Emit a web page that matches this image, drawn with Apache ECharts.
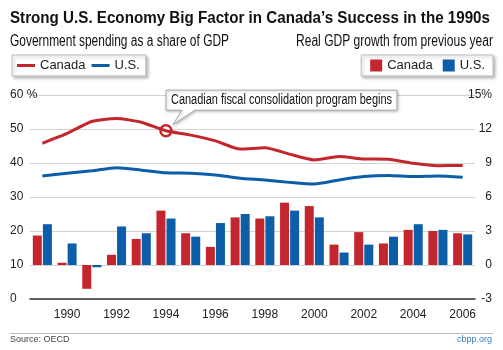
<!DOCTYPE html>
<html>
<head>
<meta charset="utf-8">
<script src="https://cdn.jsdelivr.net/npm/echarts@6/dist/echarts.min.js"></script>
<style>
body{margin:0;background:#fff}
#chart{width:503px;height:350px}
</style>
</head>
<body>
<div id="chart"></div>
<script>
var years = ['1989','1990','1991','1992','1993','1994','1995','1996','1997','1998','1999','2000','2001','2002','2003','2004','2005','2006'];
// government spending, % of GDP (left axis)
var spendCanada = [45.8,48.7,52.2,53.1,52.0,49.5,48.2,46.5,44.1,44.5,42.6,40.9,41.9,41.2,41.1,39.9,39.2,39.3];
var spendUS = [36.2,37.0,37.7,38.6,37.9,37.1,37.0,36.5,35.5,35.0,34.3,33.8,35.0,36.0,36.3,36.0,36.2,35.8];
// real GDP growth, % (right axis)
var growthCanada = [2.6,0.2,-2.1,0.9,2.3,4.8,2.8,1.6,4.2,4.1,5.5,5.2,1.8,2.9,1.9,3.1,3.0,2.8];
var growthUS = [3.6,1.9,-0.2,3.4,2.8,4.1,2.5,3.7,4.5,4.3,4.8,4.2,1.1,1.8,2.5,3.6,3.1,2.7];
var spendTicks = [0,10,20,30,40,50,60];
var growthTicks = [-3,0,3,6,9,12,15];
var noteText = 'Canadian fiscal consolidation program begins';

var FONT = "'Liberation Sans', Arial, sans-serif";
var RED = '#c4262e', BLUE = '#0d5ea8';
var names = {lineCA:'Canada', lineUS:'U.S.', barCA:'Canada', barUS:'U.S.'};

// squeeze text horizontally to imitate the condensed face of the original
var ctx = document.createElement('canvas').getContext('2d');
function squeeze(text, font, width) {
  ctx.font = font;
  return width / ctx.measureText(text).width;
}
function narrowText(text, font, x, y, width, align) {
  return {
    type: 'text', x: x, y: y, scaleX: squeeze(text, font, width),
    style: {text: text, font: font, fill: '#111', align: align || 'left', verticalAlign: 'middle'}
  };
}

var titleFont = 'bold 17px ' + FONT;
var subFont = '16px ' + FONT;
var noteFont = '14px ' + FONT;

var chart = echarts.init(document.getElementById('chart'));

chart.setOption({
  animation: false,
  textStyle: {fontFamily: FONT},
  grid: {left: 30, right: 28, top: 95, bottom: 51},
  legend: [{
    data: ['lineCA','lineUS'],
    left: 12, top: 55, padding: [4, 6, 4, 5],
    itemWidth: 18, itemHeight: 3, itemGap: 6, icon: 'rect',
    backgroundColor: '#fff', borderColor: '#bbb', borderWidth: 1,
    shadowBlur: 3, shadowOffsetX: 2, shadowOffsetY: 2, shadowColor: 'rgba(0,0,0,0.25)',
    formatter: function (n) { return names[n]; },
    textStyle: {fontFamily: FONT, fontSize: 13, color: '#222'},
    selectedMode: false
  }, {
    data: ['barCA','barUS'],
    right: 10, top: 55, padding: [4, 8, 4, 9],
    itemWidth: 12, itemHeight: 12, itemGap: 10, icon: 'rect',
    backgroundColor: '#fff', borderColor: '#bbb', borderWidth: 1,
    shadowBlur: 3, shadowOffsetX: 2, shadowOffsetY: 2, shadowColor: 'rgba(0,0,0,0.25)',
    formatter: function (n) { return names[n]; },
    textStyle: {fontFamily: FONT, fontSize: 13, color: '#222'},
    selectedMode: false
  }],
  xAxis: {
    type: 'category',
    data: years,
    boundaryGap: true,
    axisLine: {lineStyle: {color: '#333', width: 1.5}},
    axisTick: {inside: true, length: 7, interval: 0, alignWithLabel: true, lineStyle: {color: '#333'}},
    axisLabel: {
      interval: function (i) { return i % 2 === 1; },
      fontFamily: FONT, fontSize: 12, color: '#222', margin: 10
    }
  },
  yAxis: [{
    type: 'value',
    position: 'left',
    min: spendTicks[0], max: spendTicks[spendTicks.length - 1], interval: spendTicks[1] - spendTicks[0],
    axisLine: {show: false}, axisTick: {show: false},
    splitLine: {lineStyle: {color: '#d2d2d2'}},
    axisLabel: {
      align: 'left', margin: 20, fontFamily: FONT, fontSize: 12, color: '#222',
      formatter: function (v) { return v === spendTicks[spendTicks.length - 1] ? v + ' %' : v; }
    }
  }, {
    type: 'value',
    position: 'right',
    min: growthTicks[0], max: growthTicks[growthTicks.length - 1], interval: growthTicks[1] - growthTicks[0],
    axisLine: {show: false}, axisTick: {show: false},
    splitLine: {show: false},
    axisLabel: {
      align: 'right', margin: 17, fontFamily: FONT, fontSize: 12, color: '#222',
      formatter: function (v) { return v === growthTicks[growthTicks.length - 1] ? v + '%' : v; }
    }
  }],
  series: [{
    name: 'barCA', type: 'bar', yAxisIndex: 1, data: growthCanada,
    barWidth: 9, barGap: '12%', itemStyle: {color: RED}, z: 2
  }, {
    name: 'barUS', type: 'bar', yAxisIndex: 1, data: growthUS,
    barWidth: 9, barGap: '12%', itemStyle: {color: BLUE}, z: 2
  }, {
    name: 'lineCA', type: 'line', yAxisIndex: 0, data: spendCanada,
    symbol: 'none', smooth: 0.2, lineStyle: {color: RED, width: 3}, itemStyle: {color: RED}, z: 6,
    markPoint: {
      symbol: 'circle', symbolSize: 11, silent: true,
      itemStyle: {color: '#fff', borderColor: RED, borderWidth: 2.5},
      label: {show: false},
      data: [{coord: [years[5], spendCanada[5]]}]
    }
  }, {
    name: 'lineUS', type: 'line', yAxisIndex: 0, data: spendUS,
    symbol: 'none', smooth: 0.2, lineStyle: {color: BLUE, width: 3}, itemStyle: {color: BLUE}, z: 5
  }],
  graphic: [
    narrowText('Strong U.S. Economy Big Factor in Canada\u2019s Success in the 1990s', titleFont, 10, 18, 480),
    narrowText('Government spending as a share of GDP', subFont, 10, 41.5, 219),
    narrowText('Real GDP growth from previous year', subFont, 493, 41.5, 197, 'right'),
    {type: 'line', shape: {x1: 10, y1: 333.5, x2: 493, y2: 333.5}, style: {stroke: '#bbb', lineWidth: 1}},
    {type: 'text', left: 10, top: 335, style: {text: 'Source: OECD', font: '9px ' + FONT, fill: '#444'}},
    {type: 'text', right: 11, top: 335, style: {text: 'cbpp.org', font: '9px ' + FONT, fill: '#3a7cc0'}}
  ]
});

// callout box anchored on the 1994 Canada point
var p = chart.convertToPixel({seriesIndex: 2}, [years[5], spendCanada[5]]);
var bx = p[0], by = p[1];
var L = bx, R = bx + 231, T = by - 40.5, B = by - 20.5;
var note = narrowText(noteText, noteFont, L + 5, (T + B) / 2, 221);
note.id = 'noteText';
note.z = 5;
chart.setOption({
  graphic: [{
    id: 'noteBox', type: 'polygon', z: 4,
    shape: {points: [[L, T], [R, T], [R, B], [bx + 29, B], [bx + 7, by - 6], [bx + 16, B], [L, B]]},
    style: {fill: '#fff', stroke: '#aaa', lineWidth: 1, shadowBlur: 3, shadowOffsetX: 1, shadowOffsetY: 1, shadowColor: 'rgba(0,0,0,0.25)'}
  }, note]
});
</script>
</body>
</html>
